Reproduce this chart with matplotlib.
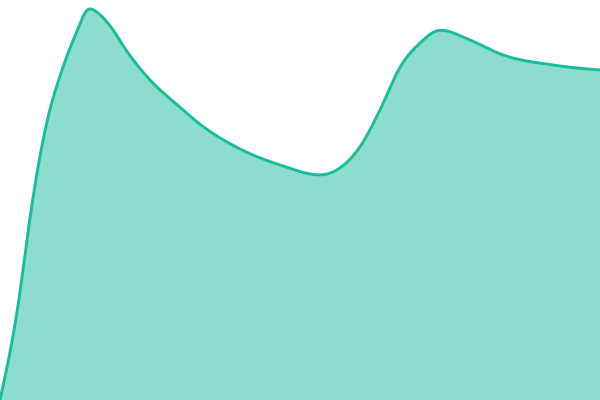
import numpy as np
import matplotlib
matplotlib.use("Agg")
import matplotlib.pyplot as plt

# data points (x position, value)
x_pos = [0, 19, 30, 45, 63, 78, 88,
         108, 128, 150, 175, 205, 240, 280, 320,
         340, 360, 380, 400, 420, 440,
         470, 503, 553, 600]
values = [0, 100, 183, 270, 333, 371, 392,
          377, 347, 320, 297, 272, 251, 235, 225,
          232, 253, 290, 333, 357, 370,
          360, 345, 335, 330]

LINE_COLOR = "#1abc9c"


def monotone_x(xs, ys, n=40):
    """Monotone cubic interpolation, same idea as d3.curveMonotoneX."""
    xs = np.asarray(xs, dtype=float)
    ys = np.asarray(ys, dtype=float)
    h = np.diff(xs)
    s = np.diff(ys) / h
    t = np.zeros(len(xs))
    for i in range(1, len(xs) - 1):
        p = (s[i - 1] * h[i] + s[i] * h[i - 1]) / (h[i - 1] + h[i])
        t[i] = (np.sign(s[i - 1]) + np.sign(s[i])) * min(abs(s[i - 1]), abs(s[i]), 0.5 * abs(p))
    t[0] = (3 * s[0] - t[1]) / 2
    t[-1] = (3 * s[-1] - t[-2]) / 2
    out_x, out_y = [], []
    for i in range(len(xs) - 1):
        u = np.linspace(0, 1, n, endpoint=(i == len(xs) - 2))
        h00 = 2 * u**3 - 3 * u**2 + 1
        h10 = u**3 - 2 * u**2 + u
        h01 = -2 * u**3 + 3 * u**2
        h11 = u**3 - u**2
        out_x.append(xs[i] + u * h[i])
        out_y.append(h00 * ys[i] + h10 * h[i] * t[i] + h01 * ys[i + 1] + h11 * h[i] * t[i + 1])
    return np.concatenate(out_x), np.concatenate(out_y)


def smooth(xs, ys, sigma=3.0, step=0.5):
    # resample on an even grid and blur a little to hide small kinks
    gx = np.arange(xs[0], xs[-1] + step, step)
    gy = np.interp(gx, xs, ys)
    r = int(3 * sigma / step)
    k = np.exp(-0.5 * (np.arange(-r, r + 1) * step / sigma) ** 2)
    k /= k.sum()
    padded = np.concatenate([
        2 * gy[0] - gy[r:0:-1], gy, 2 * gy[-1] - gy[-2:-r - 2:-1]
    ])
    return gx, np.convolve(padded, k, mode="valid")


cx, cy = monotone_x(x_pos, values)
cx, cy = smooth(cx, cy)

fig = plt.figure(figsize=(6, 4), dpi=100)
ax = fig.add_axes([0, 0, 1, 1])
ax.fill_between(cx, 0, cy, color=LINE_COLOR, alpha=0.5, linewidth=0)
ax.plot(cx, cy, color=LINE_COLOR, linewidth=2.1, solid_capstyle="round")
ax.set_xlim(0, 600)
ax.set_ylim(0, 400)
ax.axis("off")

fig.savefig("out.png", dpi=100)
